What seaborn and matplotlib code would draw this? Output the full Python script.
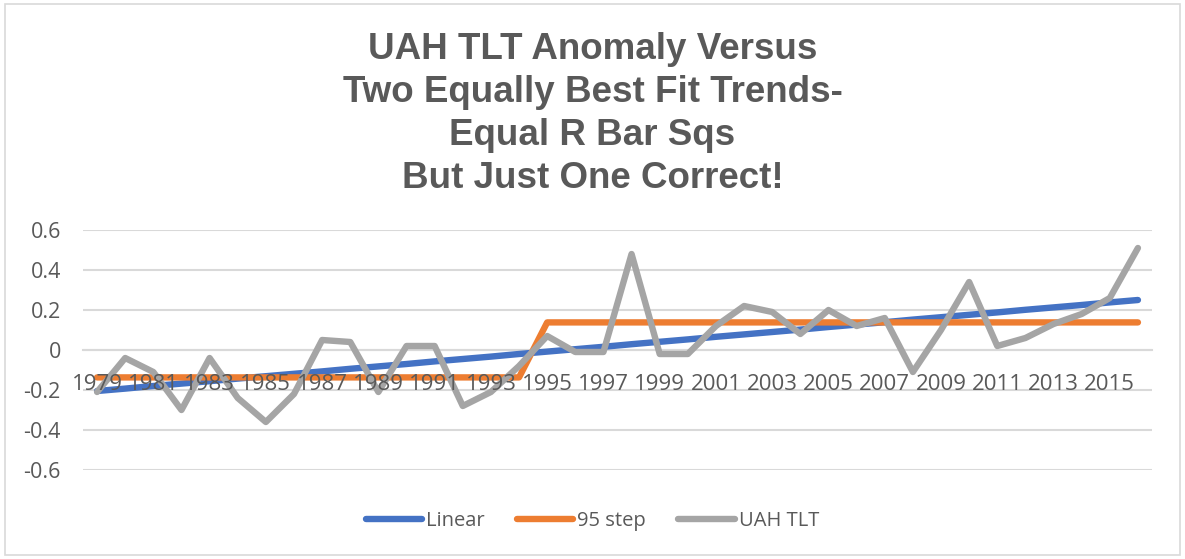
import numpy as np
import pandas as pd
import matplotlib
matplotlib.use("Agg")
import matplotlib.pyplot as plt
from matplotlib.lines import Line2D
from matplotlib.patches import Rectangle
import seaborn as sns

# Data
years = list(range(1979, 2017))
uah_tlt = [-0.21, -0.04, -0.11, -0.30, -0.04, -0.24, -0.36, -0.22, 0.05, 0.04,
           -0.21, 0.02, 0.02, -0.28, -0.21, -0.08, 0.07, -0.01, -0.01, 0.48,
           -0.02, -0.02, 0.12, 0.22, 0.19, 0.08, 0.20, 0.12, 0.16, -0.11,
           0.10, 0.34, 0.02, 0.06, 0.13, 0.18, 0.26, 0.51]
linear = [-0.205, -0.193, -0.180, -0.168, -0.156, -0.143, -0.131, -0.119, -0.107, -0.094,
          -0.082, -0.070, -0.057, -0.045, -0.033, -0.020, -0.008, 0.004, 0.016, 0.029,
          0.041, 0.053, 0.066, 0.078, 0.090, 0.102, 0.115, 0.127, 0.139, 0.152,
          0.164, 0.176, 0.188, 0.201, 0.213, 0.225, 0.238, 0.250]
step95 = [-0.137] * 16 + [0.138] * 22

series_names = ["Linear", "95 step", "UAH TLT"]
series_colors = ["#4472C4", "#ED7D31", "#A5A5A5"]
year_ticks = list(range(1979, 2016, 2))
y_ticks = [-0.6, -0.4, -0.2, 0, 0.2, 0.4, 0.6]
y_tick_labels = ["-0.6", "-0.4", "-0.2", "0", "0.2", "0.4", "0.6"]

title = ("UAH TLT Anomaly Versus\nTwo Equally Best Fit Trends-\n"
         "Equal R Bar Sqs\nBut Just One Correct!")

df = pd.DataFrame({
    "year": years * 3,
    "value": linear + step95 + uah_tlt,
    "series": ["Linear"] * len(years) + ["95 step"] * len(years) + ["UAH TLT"] * len(years),
})

sns.set_style("white")
plt.rcParams["font.family"] = ["Open Sans", "DejaVu Sans"]

text_grey = "#595959"
grid_grey = "#D9D9D9"

fig = plt.figure(figsize=(11.85, 5.59), dpi=100)
ax = fig.add_axes([83 / 1185, 1 - 470 / 559, (1152 - 83) / 1185, 240 / 559])

palette = dict(zip(series_names, series_colors))
sns.lineplot(data=df, x="year", y="value", hue="series", hue_order=series_names,
             palette=palette, linewidth=4.6, ax=ax, legend=False, sort=False)
for line in ax.get_lines():
    line.set_solid_capstyle("round")
    line.set_solid_joinstyle("round")

ax.set_xlim(1978.5, 2016.5)
ax.set_ylim(-0.6, 0.6)
ax.set_yticks(y_ticks)
ax.set_yticklabels(y_tick_labels)
ax.set_xticks(year_ticks)
ax.set_xticklabels([str(y) for y in year_ticks])
ax.set_xlabel("")
ax.set_ylabel("")

ax.grid(axis="y", color=grid_grey, linewidth=1.5)
ax.yaxis.set_zorder(0.5)
# year labels sit on top of the lines, as in Excel
ax.xaxis.set_zorder(5)
for side in ["left", "right", "top"]:
    ax.spines[side].set_visible(False)
ax.spines["bottom"].set_position(("data", 0))
ax.spines["bottom"].set_color(grid_grey)
ax.spines["bottom"].set_linewidth(1.5)
ax.spines["bottom"].set_zorder(0.5)

ax.tick_params(axis="x", length=0, pad=17, labelsize=16, labelcolor=text_grey)
ax.tick_params(axis="y", length=0, pad=16, labelsize=15.5, labelcolor=text_grey)

fig.text(0.5, 1 - 114 / 559, title, ha="center", va="center", fontsize=26.5,
         fontweight="bold", color=text_grey, family="Liberation Sans",
         linespacing=1.3)

handles = [Line2D([0], [0], color=c, linewidth=4.6, solid_capstyle="round")
           for c in series_colors]
fig.legend(handles, series_names, loc="center", bbox_to_anchor=(0.5, 1 - 521 / 559),
           ncol=3, frameon=False, fontsize=14.5, labelcolor=text_grey,
           handlelength=2.8, handletextpad=0.2, columnspacing=1.6)

fig.patches.append(Rectangle((5 / 1185, 4 / 559), 1175 / 1185, 551 / 559,
                             transform=fig.transFigure, fill=False,
                             edgecolor=grid_grey, linewidth=1.2))

fig.savefig("out.png", dpi=100, facecolor="white")
